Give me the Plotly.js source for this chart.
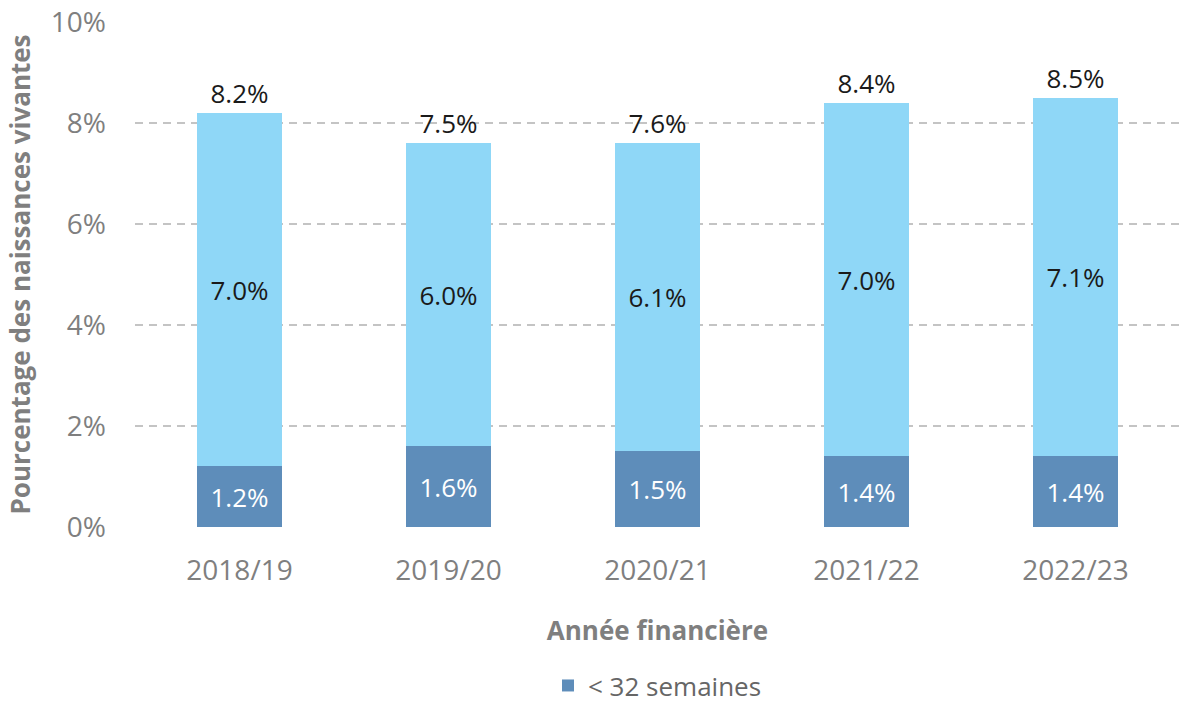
<!DOCTYPE html>
<html>
<head>
<meta charset="utf-8">
<script src="https://cdn.plot.ly/plotly-3.0.1.min.js"></script>
<style>html,body{margin:0;padding:0;background:#fff}#chart{width:1183px;height:707px}</style>
</head>
<body>
<div id="chart"></div>
<script>
var years = ["2018/19", "2019/20", "2020/21", "2021/22", "2022/23"];
var under32 = [1.2, 1.6, 1.5, 1.4, 1.4];
var from32to36 = [7.0, 6.0, 6.1, 7.0, 7.1];
var totals = [8.2, 7.6, 7.6, 8.4, 8.5];
var totalLabels = ["8.2%", "7.5%", "7.6%", "8.4%", "8.5%"];
var yTickVals = [0, 2, 4, 6, 8, 10];
var yTickText = ["0%", "2%", "4%", "6%", "8%", "10%"];

var FONT = "Open Sans, DejaVu Sans, sans-serif";
function pct(arr){ return arr.map(function(v){ return v.toFixed(1) + "%"; }); }

var traces = [
  {
    type: "bar", name: "< 32 semaines", x: years, y: under32,
    marker: {color: "#5e8dba"},
    text: pct(under32), textposition: "inside", insidetextanchor: "middle",
    textfont: {family: FONT, size: 26, color: "#ffffff"},
    hoverinfo: "skip"
  },
  {
    type: "bar", name: "32-36 semaines", x: years, y: from32to36,
    marker: {color: "#8fd7f7"}, showlegend: false,
    text: pct(from32to36), textposition: "inside", insidetextanchor: "middle",
    textfont: {family: FONT, size: 26, color: "#1a1a1a"},
    hoverinfo: "skip"
  },
  {
    type: "scatter", mode: "markers+text", x: years, y: totals, text: totalLabels,
    textposition: "top center", showlegend: false,
    marker: {size: 4, color: "rgba(0,0,0,0)"},
    textfont: {family: FONT, size: 26, color: "#1a1a1a"},
    hoverinfo: "skip", cliponaxis: false
  }
];

var layout = {
  width: 1183, height: 707,
  margin: {l: 135, r: 3, t: 22, b: 180, autoexpand: false},
  barmode: "stack", bargap: 0.595,
  paper_bgcolor: "#ffffff", plot_bgcolor: "#ffffff",
  font: {family: FONT, color: "#7f7f7f"},
  xaxis: {
    type: "category",
    tickfont: {family: FONT, size: 28, color: "#7f7f7f"},
    showgrid: false, zeroline: false,
    showline: true, linecolor: "#ffffff", linewidth: 4,
    ticks: "", ticklabelstandoff: 15,
    title: {text: "Année financière", font: {family: FONT, size: 26, color: "#7f7f7f", weight: "bold"}, standoff: 36},
    automargin: false
  },
  yaxis: {
    range: [0, 10],
    tickvals: yTickVals, ticktext: yTickText,
    tickfont: {family: FONT, size: 28, color: "#7f7f7f"},
    showgrid: true, gridcolor: "#c4c4c4", gridwidth: 2, griddash: "8px,6px",
    zeroline: false, showline: false, ticks: "", ticklabelstandoff: 28,
    title: {text: "Pourcentage des naissances vivantes", font: {family: FONT, size: 26, color: "#7f7f7f", weight: "bold"}, standoff: 12},
    automargin: false
  },
  showlegend: true,
  legend: {
    orientation: "h", x: 0.5, xanchor: "center", y: -0.314, yanchor: "middle",
    font: {family: FONT, size: 26, color: "#666666"},
    itemwidth: 30
  }
};

Plotly.newPlot("chart", traces, layout, {displayModeBar: false, staticPlot: true});
</script>
</body>
</html>
